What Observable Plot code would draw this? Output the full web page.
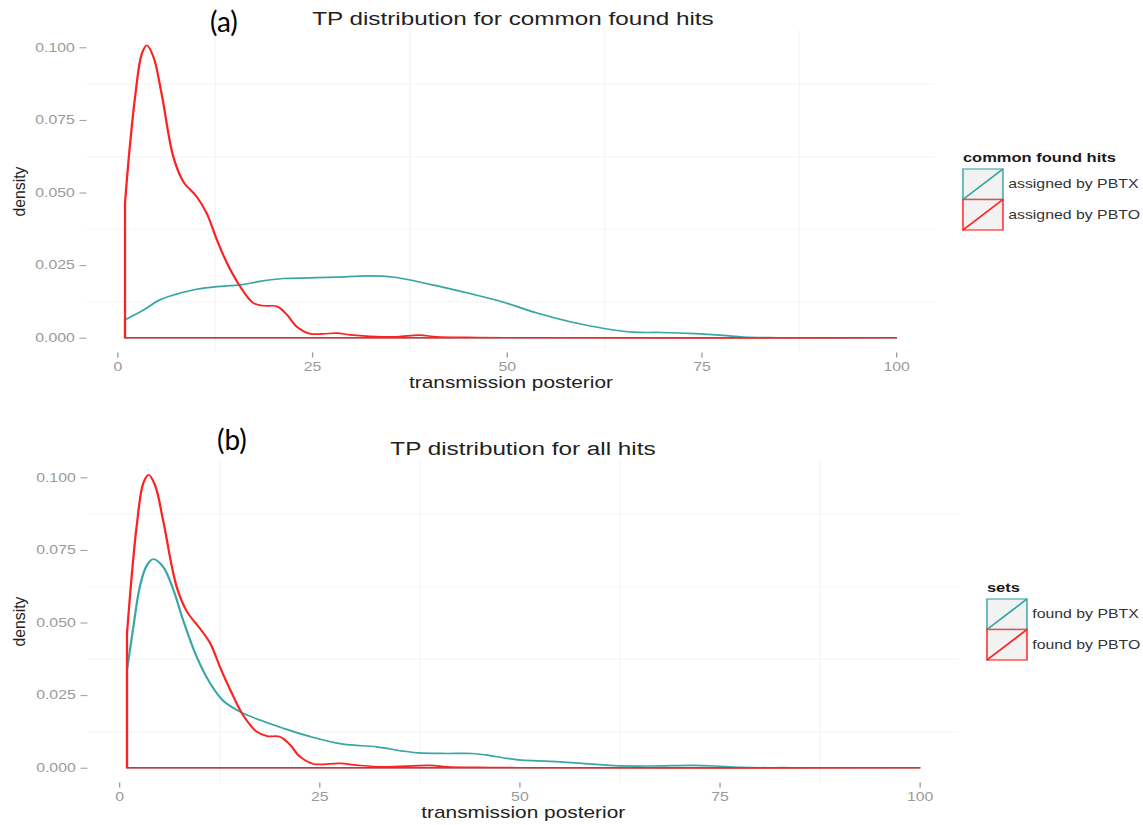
<!DOCTYPE html>
<html><head><meta charset="utf-8">
<script src="https://cdn.jsdelivr.net/npm/d3@7"></script>
<script src="https://cdn.jsdelivr.net/npm/@observablehq/plot@0.6"></script>
<style>
html,body{margin:0;padding:0;background:#fff;}
#root{position:relative;width:1143px;height:825px;overflow:hidden;background:#fff;}
#fig{position:absolute;left:0;top:0;width:866px;height:825px;transform:scaleX(1.32);transform-origin:0 0;}
.panel{position:absolute;left:0;}
svg.overlay{position:absolute;left:0;top:0;overflow:visible;}
</style></head><body><div id="root"><div id="fig"></div></div>
<script>
// ---------- data ----------
const seriesNames = ["PBTX", "PBTO"];
const seriesColors = ["#3aa6a6", "#ff2020"];
const xTicks = [0, 25, 50, 75, 100];
const yTicks = [0, 0.025, 0.05, 0.075, 0.1];
const xMinor = [12.5, 37.5, 62.5, 87.5];
const yMinor = [0.0125, 0.0375, 0.0625, 0.0875];
const titles = ["TP distribution for common found hits", "TP distribution for all hits"];
const panelTags = ["(a)", "(b)"];
const legendTitles = ["common found hits", "sets"];
const legendLabelsA = ["assigned by PBTX", "assigned by PBTO"];
const legendLabelsB = ["found by PBTX", "found by PBTO"];
const xLabel = "transmission posterior";
const yLabel = "density";

// panel (a): common found hits  [transmission posterior, density]
const commonPBTX = [[1.0,0.0062],[3.4,0.0096],[5.5,0.0131],[8.1,0.0154],[10.2,0.0167],[12.8,0.0176],[15.8,0.0182],[18.3,0.0194],[21.3,0.0204],[24.7,0.0206],[28.2,0.0209],[32.4,0.0213],[35.4,0.0209],[40.3,0.0183],[45.0,0.0154],[49.5,0.0123],[53.9,0.0085],[58.3,0.0054],[62.7,0.0031],[66.3,0.0019],[69.8,0.0018],[74.2,0.0014],[77.8,0.0008],[80.4,0.0002],[85,0],[100,0]];
const commonPBTO = [[1.0,0.0464],[1.45,0.061],[2.3,0.083],[3.16,0.0978],[3.8,0.1007],[4.65,0.0967],[5.7,0.084],[7.2,0.0623],[8.5,0.0537],[10.2,0.0486],[11.5,0.0428],[12.8,0.0337],[14.1,0.0257],[15.8,0.0176],[17.5,0.0119],[18.8,0.011],[20.5,0.0108],[21.8,0.0079],[23.0,0.0039],[24.7,0.0014],[26.4,0.0013],[28.2,0.0016],[29.9,0.001],[32.4,0.0005],[35.9,0.0003],[38.8,0.0009],[41,0.0003],[45,0.0001],[50,0],[100,0]];
// panel (b): all hits
const allPBTX = [[1.0,0.0336],[1.8,0.0486],[2.6,0.0623],[3.5,0.0698],[4.3,0.0718],[5.5,0.0692],[6.8,0.0612],[8.0,0.0509],[9.7,0.0382],[11.4,0.029],[13.0,0.0231],[15.1,0.0193],[17.6,0.0164],[20.5,0.0136],[23.9,0.0107],[28.0,0.0081],[32.2,0.0072],[35.3,0.0058],[37.4,0.0051],[40.9,0.0049],[44.1,0.0049],[45.8,0.0044],[48.5,0.0032],[50.3,0.0026],[53.9,0.0022],[57.5,0.0016],[61.9,0.0007],[66.4,0.0006],[71.7,0.0008],[74.4,0.0006],[77.5,0.0001],[84,0],[100,0]];
const allPBTO = [[1.0,0.0463],[1.4,0.060],[2.2,0.083],[3.04,0.098],[3.7,0.1008],[4.5,0.0973],[5.5,0.0853],[7.2,0.0623],[8.5,0.0537],[10.1,0.048],[11.4,0.0428],[12.6,0.0348],[13.9,0.0268],[15.5,0.0181],[17.2,0.0124],[18.5,0.0109],[20.1,0.0107],[21.4,0.0078],[22.6,0.0038],[24.3,0.0013],[27.6,0.0015],[29.7,0.0009],[33,0.0003],[38.8,0.0008],[41,0.0003],[45,0.0001],[50,0],[100,0]];

// ---------- layout ----------
const S = 1.32; // horizontal stretch of the figure
const fig = document.getElementById("fig");
const root = document.getElementById("root");
const FONT = "'Liberation Sans', Arial, Helvetica, sans-serif";

function panel(pbtx, pbto, cfg) {
  const rows = [
    ...pbtx.map(([x, y]) => ({set: seriesNames[0], x, y})),
    ...pbto.map(([x, y]) => ({set: seriesNames[1], x, y}))
  ];
  const p = Plot.plot({
    width: cfg.width, height: cfg.height,
    marginLeft: cfg.ml, marginRight: cfg.mr, marginTop: cfg.mt, marginBottom: cfg.mb,
    style: {fontFamily: FONT, fontSize: "12px", background: "transparent", overflow: "visible"},
    x: {domain: [-3.95, 104.95]},
    y: {domain: [-0.00505, 0.10585]},
    color: {domain: seriesNames, range: seriesColors},
    marks: [
      Plot.gridX(xMinor, {stroke: "#f5f5f5", strokeOpacity: 1}),
      Plot.gridY(yMinor, {stroke: "#f3f3f3", strokeOpacity: 1}),
      Plot.axisX(xTicks, {tickSize: 5, tickPadding: 5, color: "#9a9a9a", label: null, tickFormat: d => String(d)}),
      Plot.axisY(yTicks, {tickSize: 5.3, tickPadding: 4, color: "#9a9a9a", label: null, tickFormat: d3.format(".3f")}),
      Plot.areaY(rows, {x: "x", y1: 0, y2: "y", z: "set", stroke: "set", fill: "none", strokeWidth: 1.7, curve: "catmull-rom"})
    ]
  });
  p.classList.add("panel");
  p.style.top = cfg.top + "px";
  fig.appendChild(p);
}

panel(commonPBTX, commonPBTO, {top: 0, width: 730, height: 400, ml: 65.5, mr: 22, mt: 30.3, mb: 47.6});
panel(allPBTX, allPBTO, {top: 420, width: 750, height: 405, ml: 66.2, mr: 23.4, mt: 40.3, mb: 42.6});

// stretched overlay: titles, x-axis titles, legends
const ov = d3.select(fig).append("svg").attr("class", "overlay")
  .attr("width", 866).attr("height", 825).style("font-family", FONT);

const titleSpecs = [{x: 388.6, y: 25}, {x: 396.2, y: 455}];
titles.forEach((t, i) => ov.append("text").attr("x", titleSpecs[i].x).attr("y", titleSpecs[i].y)
  .attr("text-anchor", "middle").attr("font-size", 18.4).attr("fill", "#222").text(t));

const xlabSpecs = [{x: 387.1, y: 388}, {x: 396.4, y: 818}];
xlabSpecs.forEach(s => ov.append("text").attr("x", s.x).attr("y", s.y)
  .attr("text-anchor", "middle").attr("font-size", 15.8).attr("fill", "#222").text(xLabel));

function legend(title, labels, lx, ty, ky) {
  ov.append("text").attr("x", lx).attr("y", ty).attr("font-size", 12.5).attr("font-weight", "bold")
    .attr("fill", "#1a1a1a").text(title);
  labels.forEach((lab, i) => {
    const y0 = ky + i * 30.5, w = 30.3, h = 30.5;
    ov.append("rect").attr("x", lx).attr("y", y0).attr("width", w).attr("height", h)
      .attr("fill", "#f2f2f2").attr("stroke", seriesColors[i]).attr("stroke-opacity", 0.75).attr("stroke-width", 1.5);
    ov.append("line").attr("x1", lx).attr("y1", y0 + h).attr("x2", lx + w).attr("y2", y0)
      .attr("stroke", seriesColors[i]).attr("stroke-width", 1.5);
    ov.append("text").attr("x", lx + w + 4).attr("y", y0 + h / 2 + 4.2).attr("font-size", 12)
      .attr("fill", "#333").text(lab);
  });
}
legend(legendTitles[0], legendLabelsA, 729.5, 162, 169);
legend(legendTitles[1], legendLabelsB, 747.7, 592, 599);

// unstretched overlay: panel tags and y-axis titles
const ov2 = d3.select(root).append("svg").attr("class", "overlay").attr("width", 1143).attr("height", 825);
const tagSpecs = [{x: 210, y: 32}, {x: 217, y: 450}];
panelTags.forEach((t, i) => ov2.append("text").attr("x", tagSpecs[i].x).attr("y", tagSpecs[i].y)
  .attr("font-family", "Lato, 'Open Sans', sans-serif").attr("font-size", 28).attr("fill", "#000").text(t));
[191.5, 621.5].forEach(cy => ov2.append("text").attr("transform", `translate(25,${cy}) rotate(-90)`)
  .attr("text-anchor", "middle").attr("font-family", FONT).attr("font-size", 15.8).attr("fill", "#222").text(yLabel));
</script></body></html>
